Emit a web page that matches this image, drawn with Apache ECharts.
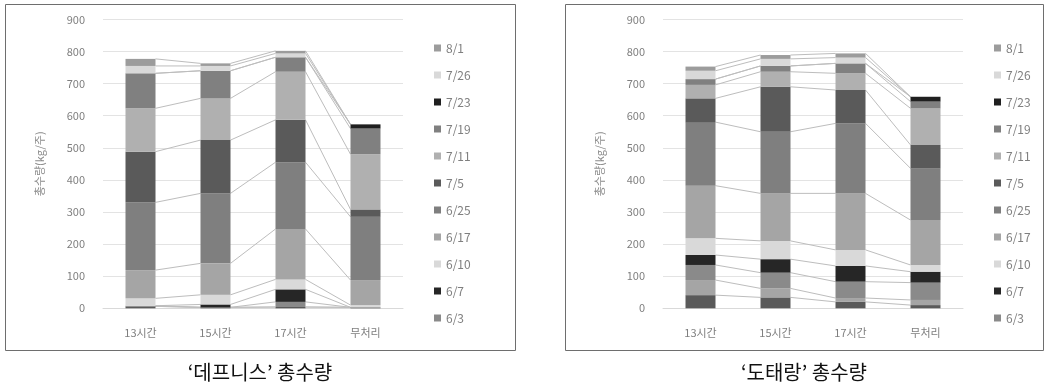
<!DOCTYPE html>
<html><head><meta charset="utf-8">
<script src="https://cdn.jsdelivr.net/npm/echarts@6/dist/echarts.min.js"></script>
<style>html,body{margin:0;padding:0;background:#fff}#c{width:1048px;height:390px}</style>
</head><body><div id="c"></div>
<script>
const categories = ['13시간', '15시간', '17시간', '무처리'];
// stack order bottom -> top (the two lowest series are cut off from the legend in the original)
const seriesNames = ['5/27', '5/30', '6/3', '6/7', '6/10', '6/17', '6/25', '7/5', '7/11', '7/19', '7/23', '7/26', '8/1'];
const legendNames = ['8/1', '7/26', '7/23', '7/19', '7/11', '7/5', '6/25', '6/17', '6/10', '6/7', '6/3'];
const yTicks = [0, 100, 200, 300, 400, 500, 600, 700, 800, 900];

// '데프니스' 총수량 (values per series: 13시간, 15시간, 17시간, 무처리)
const dep_0527 = [6, 3, 4, 3];
const dep_0530 = [0, 0, 0, 0];
const dep_0603 = [2, 0, 16, 0];
const dep_0607 = [0, 9, 39, 0];
const dep_0610 = [23, 30, 31, 7];
const dep_0617 = [88, 98, 157, 78];
const dep_0625 = [211, 218, 208, 197];
const dep_0705 = [158, 166, 132, 23];
const dep_0711 = [135, 130, 150, 172];
const dep_0719 = [109, 86, 45, 80];
const dep_0723 = [0, 0, 0, 13];
const dep_0726 = [23, 15, 12, 0];
const dep_0801 = [22, 8, 8, 0];

// '도태랑' 총수량
const dot_0527 = [41, 34, 20, 10];
const dot_0530 = [47, 28, 12, 16];
const dot_0603 = [47, 49, 51, 54];
const dot_0607 = [31, 42, 49, 34];
const dot_0610 = [52, 57, 50, 21];
const dot_0617 = [164, 148, 176, 140];
const dot_0625 = [198, 192, 218, 161];
const dot_0705 = [74, 140, 104, 73];
const dot_0711 = [42, 47, 52, 114];
const dot_0719 = [18, 18, 31, 21];
const dot_0723 = [0, 0, 0, 15];
const dot_0726 = [26, 22, 18, 0];
const dot_0801 = [13, 12, 13, 0];

const depSeries = [dep_0527, dep_0530, dep_0603, dep_0607, dep_0610, dep_0617, dep_0625, dep_0705, dep_0711, dep_0719, dep_0723, dep_0726, dep_0801];
const dotSeries = [dot_0527, dot_0530, dot_0603, dot_0607, dot_0610, dot_0617, dot_0625, dot_0705, dot_0711, dot_0719, dot_0723, dot_0726, dot_0801];

const colors = ['#5a5a5a', '#a5a5a5', '#8a8a8a', '#262626', '#d9d9d9', '#a5a5a5', '#7f7f7f', '#5a5a5a', '#b0b0b0', '#808080', '#1f1f1f', '#d9d9d9', '#9c9c9c'];
const BAR_RATIO = 0.4;
const FONT = '"Noto Sans CJK KR", "Noto Sans", sans-serif';

function barSeries(list, idx, stack) {
  return list.map((vals, s) => ({
    name: seriesNames[s], type: 'bar', stack: stack,
    xAxisIndex: idx, yAxisIndex: idx,
    barWidth: (BAR_RATIO * 100) + '%',
    itemStyle: { color: colors[s] },
    data: vals, z: 3
  }));
}

function lineSeries(list, idx) {
  const cum = [];
  let run = categories.map(() => 0);
  list.forEach(vals => { run = run.map((r, i) => r + vals[i]); cum.push(run.slice()); });
  const data = [];
  cum.forEach(c => { for (let i = 0; i < categories.length - 1; i++) data.push([i, c[i], c[i + 1]]); });
  return {
    type: 'custom', xAxisIndex: idx, yAxisIndex: idx, silent: true, z: 2,
    encode: { x: 0, y: [1, 2] },
    data: data,
    renderItem: function (params, api) {
      const i = api.value(0);
      const p0 = api.coord([i, api.value(1)]);
      const p1 = api.coord([i + 1, api.value(2)]);
      const hw = api.size([1, 0])[0] * BAR_RATIO / 2;
      return { type: 'line', shape: { x1: p0[0] + hw, y1: p0[1], x2: p1[0] - hw, y2: p1[1] },
        style: { stroke: '#bdbdbd', lineWidth: 1 } };
    }
  };
}

function xAxis(idx) {
  return { type: 'category', gridIndex: idx, data: categories,
    axisLine: { lineStyle: { color: '#d9d9d9' } }, axisTick: { show: false },
    axisLabel: { color: '#7f7f7f', fontSize: 11, fontFamily: FONT, margin: 19 } };
}
function yAxis(idx) {
  return { type: 'value', gridIndex: idx, min: yTicks[0], max: yTicks[yTicks.length - 1], interval: 100,
    name: '총수량(kg/주)', nameLocation: 'middle', nameGap: 58, nameRotate: 90,
    nameTextStyle: { color: '#8c8c8c', fontSize: 11, fontFamily: FONT },
    axisLine: { show: false }, axisTick: { show: false },
    splitLine: { lineStyle: { color: '#e3e3e3' } },
    axisLabel: { color: '#7f7f7f', fontSize: 11, fontFamily: FONT, margin: 18 } };
}
function legend(left) {
  return { orient: 'vertical', left: left, top: 36, itemWidth: 7, itemHeight: 7, itemGap: 13,
    icon: 'rect', data: legendNames, selectedMode: false,
    textStyle: { color: '#7f7f7f', fontSize: 12, lineHeight: 14, fontFamily: FONT } };
}

const chart = echarts.init(document.getElementById('c'), null, { renderer: 'canvas' });
chart.setOption({
  animation: false,
  backgroundColor: '#ffffff',
  grid: [
    { left: 103, width: 300, top: 19.4, height: 288.9 },
    { left: 663, width: 300, top: 19.4, height: 288.9 }
  ],
  xAxis: [xAxis(0), xAxis(1)],
  yAxis: [yAxis(0), yAxis(1)],
  legend: [legend(429), legend(989)],
  series: [].concat(barSeries(depSeries, 0, 'dep'), [lineSeries(depSeries, 0)],
                    barSeries(dotSeries, 1, 'dot'), [lineSeries(dotSeries, 1)]),
  graphic: [
    { type: 'rect', shape: { x: 5.5, y: 4.5, width: 510, height: 346 }, style: { fill: null, stroke: '#6e6e6e', lineWidth: 1 }, silent: true },
    { type: 'rect', shape: { x: 565.5, y: 4.5, width: 478, height: 346 }, style: { fill: null, stroke: '#6e6e6e', lineWidth: 1 }, silent: true },
    { type: 'text', x: 260, y: 372, style: { text: '‘데프니스’ 총수량', fill: '#111', fontSize: 20, fontFamily: FONT, textAlign: 'center', textVerticalAlign: 'middle' } },
    { type: 'text', x: 804, y: 372, style: { text: '‘도태랑’ 총수량', fill: '#111', fontSize: 20, fontFamily: FONT, textAlign: 'center', textVerticalAlign: 'middle' } }
  ]
});
</script></body></html>
